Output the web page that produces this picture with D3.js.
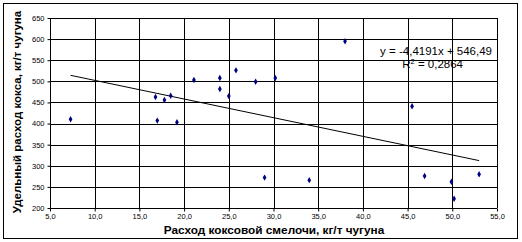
<!DOCTYPE html>
<html>
<head>
<meta charset="utf-8">
<script src="https://cdn.jsdelivr.net/npm/d3@7"></script>
<style>
  body { margin: 0; background: #fff; }
  svg { display: block; font-family: "Liberation Sans", Arial, sans-serif; }
</style>
</head>
<body>
<svg id="chart" width="522" height="242"></svg>
<script>
// coke fines consumption (x) vs specific coke rate (y)
const xVals = [7.3, 16.8, 17.8, 18.5, 17.0, 19.2, 21.1, 24.0, 24.0, 25.0, 25.8, 28.0, 30.2, 29.0,
               38.0, 34.0, 45.5, 46.9, 49.9, 50.2, 53.0];
const yVals = [410, 463, 456, 466, 407, 403, 503, 508, 482, 465, 526, 499, 508, 272,
               595, 266, 441, 276, 262, 222, 280];
const xTicks = [5, 10, 15, 20, 25, 30, 35, 40, 45, 50, 55];
const yTicks = [200, 250, 300, 350, 400, 450, 500, 550, 600, 650];
const slope = -4.4191, intercept = 546.49;

const svg = d3.select('#chart');
const pLeft = 50, pRight = 497, pTop = 18, pBottom = 208;

// outer frame
svg.append('rect').attr('x', 3.5).attr('y', 3.5).attr('width', 514).attr('height', 235)
  .attr('fill', 'none').attr('stroke', '#000');

const x = d3.scaleLinear().domain([5, 55]).range([pLeft, pRight]);
const y = d3.scaleLinear().domain([200, 650]).range([pBottom, pTop]);
const fmt = d => d3.format('.1f')(d).replace('.', ',');

// grid
svg.append('g').selectAll('line').data(xTicks).join('line')
  .attr('x1', d => Math.round(x(d)) + 0.5).attr('x2', d => Math.round(x(d)) + 0.5)
  .attr('y1', pTop).attr('y2', pBottom).attr('stroke', '#000');
svg.append('g').selectAll('line').data(yTicks).join('line')
  .attr('x1', pLeft).attr('x2', pRight)
  .attr('y1', d => Math.round(y(d)) + 0.5).attr('y2', d => Math.round(y(d)) + 0.5).attr('stroke', '#000');

// axes
const xAxis = svg.append('g').attr('transform', `translate(0,${pBottom + 0.5})`)
  .call(d3.axisBottom(x).tickValues(xTicks).tickFormat(fmt).tickSize(3).tickPadding(2));
const yAxis = svg.append('g').attr('transform', `translate(${pLeft + 0.5},0)`)
  .call(d3.axisLeft(y).tickValues(yTicks).tickSize(3).tickPadding(3));
[xAxis, yAxis].forEach(a => {
  a.select('.domain').remove();
  a.selectAll('text').attr('font-size', 7.5).attr('font-family', '"Liberation Sans", Arial, sans-serif').attr('fill', '#000');
  a.selectAll('line').attr('stroke', '#000');
});

// trend line
const x0 = d3.min(xVals), x1 = d3.max(xVals);
svg.append('line')
  .attr('x1', x(x0)).attr('y1', y(slope * x0 + intercept))
  .attr('x2', x(x1)).attr('y2', y(slope * x1 + intercept))
  .attr('stroke', '#000').attr('stroke-width', 1);

// points
svg.append('g').selectAll('path').data(xVals).join('path')
  .attr('d', d3.symbol(d3.symbolDiamond, 12))
  .attr('transform', (d, i) => `translate(${x(d)},${y(yVals[i])})`)
  .attr('fill', '#000080');

// equation
svg.append('text').attr('x', 492).attr('y', 55).attr('text-anchor', 'end')
  .attr('font-size', 11.5).text('y = -4,4191x + 546,49');
const r2 = svg.append('text').attr('x', 463).attr('y', 68).attr('text-anchor', 'end').attr('font-size', 11.5);
r2.append('tspan').text('R');
r2.append('tspan').attr('dy', -4.5).attr('font-size', 7.5).text('2');
r2.append('tspan').attr('dy', 4.5).text(' = 0,2864');

// axis titles
svg.append('text').attr('x', 274).attr('y', 234).attr('text-anchor', 'middle')
  .attr('font-size', 11.8).attr('font-weight', 'bold').text('Расход коксовой смелочи, кг/т чугуна');
svg.append('text').attr('transform', 'translate(21,112) rotate(-90)').attr('text-anchor', 'middle')
  .attr('font-size', 11.5).attr('font-weight', 'bold').text('Удельный расход кокса, кг/т чугуна');
</script>
</body>
</html>
